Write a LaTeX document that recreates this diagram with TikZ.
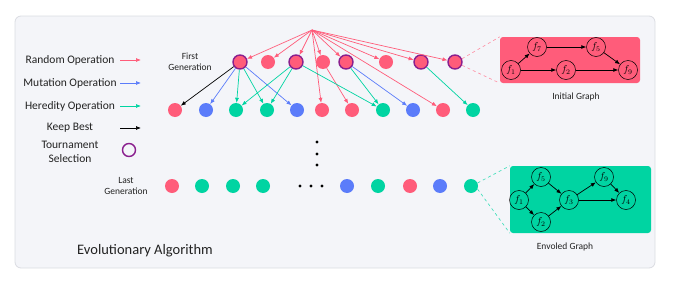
\documentclass[tikz,border=0pt]{standalone}
\usepackage{fontspec}
\setmainfont{Carlito}
\usetikzlibrary{arrows.meta}
\definecolor{randcol}{HTML}{FF5C7A}
\definecolor{mutcol}{HTML}{5B7CFA}
\definecolor{hercol}{HTML}{00D4A2}
\definecolor{selcol}{HTML}{8A1F8E}
\definecolor{panelcol}{HTML}{F4F5F9}
\definecolor{edgecol}{HTML}{DADCE2}
\definecolor{txtcol}{HTML}{222222}
\tikzset{
    indiv/.style={circle, minimum size=14pt, inner sep=0pt},
    chosen/.style={draw=selcol, line width=1.4pt},
    plain/.style={},
    randarr/.style={draw=randcol, line width=0.7pt, -{Latex[length=5pt,width=4pt]}},
    mutarr/.style={draw=mutcol, line width=0.7pt, -{Latex[length=5pt,width=4pt]}},
    herarr/.style={draw=hercol, line width=0.7pt, -{Latex[length=5pt,width=4pt]}},
    bestarr/.style={draw=black, line width=0.7pt, -{Latex[length=5pt,width=4pt]}},
    legtext/.style={text=txtcol, font=\fontsize{11.5}{13.5}\selectfont, align=center},
    gentext/.style={text=txtcol, font=\fontsize{9.5}{11.5}\selectfont, align=center},
    graphbox/.style={rounded corners=3pt, inner sep=0pt},
    fnode/.style={circle, draw=black, line width=0.5pt, minimum size=19pt, inner sep=0pt, font=\fontsize{10}{10}\selectfont},
    garr/.style={line width=0.7pt, -{Latex[length=5pt,width=4pt]}}
}
\begin{document}
\begin{tikzpicture}[x=1pt,y=-1pt]
    \useasboundingbox (0,0) rectangle (674,281);
    \fill[panelcol, draw=edgecol, line width=0.8pt, rounded corners=6pt] (15,16) rectangle (655,268);

    % legend
    \foreach \y/\txt/\st [count=\i] in {60/Random Operation/randarr, 83/Mutation Operation/mutarr,
        106/Heredity Operation/herarr, 128/Keep Best/bestarr}{
        \node[legtext] (leg\i) at (70,\y) {\txt};
        \coordinate (ls\i) at (120,\y);
        \coordinate (le\i) at (141,\y);
        \draw[\st] (ls\i) -- (le\i);
    }
    \node[legtext] (legsel) at (70,152) {Tournament\\Selection};
    \node[indiv, chosen, minimum size=13pt] (selmark) at (129,150) {};

    % first generation
    \node[gentext] (firstgen) at (190,62) {First\\Generation};
    \coordinate (src) at (312,30);
    \foreach \x/\st [count=\i] in {240/chosen, 268/plain, 296/chosen, 323/plain,
        346/chosen, 386/plain, 421/chosen, 455/chosen}{
        \node[indiv, fill=randcol, \st] (t\i) at (\x,62) {};
    }
    \foreach \x/\c [count=\i] in {175/randcol, 206/mutcol, 236/hercol, 267/hercol,
        297/mutcol, 322/randcol, 352/randcol, 383/hercol, 413/mutcol, 443/randcol, 473/hercol}{
        \node[indiv, fill=\c] (b\i) at (\x,110) {};
    }

    % operations
    \foreach \i in {1,...,8}
        \draw[randarr] (src) -- (t\i);
    \draw[randarr] (src) -- (b6);
    \draw[randarr] (src) -- (b10);
    \draw[randarr] (t4) -- (b7);
    \draw[bestarr] (t1) -- (b1);
    \draw[mutarr] (t1) -- (b2);
    \draw[mutarr] (t1) -- (b5);
    \draw[mutarr] (t5) -- (b9);
    \draw[herarr] (t1) -- (b3);
    \draw[herarr] (t1) -- (b4);
    \draw[herarr] (t3) -- (b3);
    \draw[herarr] (t3) -- (b4);
    \draw[herarr] (t3) -- (b8);
    \draw[herarr] (t5) -- (b8);
    \draw[herarr] (t7) -- (b11);

    % dots
    \foreach \y [count=\i] in {142,154,165}
        \fill (317,\y) circle (1.6pt) coordinate (vd\i);
    \foreach \x [count=\i] in {300,311,322}
        \fill (\x,186) circle (1.6pt) coordinate (hd\i);

    % last generation
    \node[gentext] (lastgen) at (126,186) {Last\\Generation};
    \foreach \x/\c [count=\i] in {172/randcol, 202/hercol, 233/hercol, 263/hercol,
        347/mutcol, 378/hercol, 410/randcol, 440/mutcol, 471/hercol}{
        \node[indiv, fill=\c] (l\i) at (\x,186) {};
    }

    % initial graph
    \node[graphbox, fill=randcol, minimum width=140pt, minimum height=46pt] (initbox) at (570,60) {};
    \draw[randcol!70, dashed, line width=0.6pt] (t8.25) -- (initbox.north west);
    \draw[randcol!70, dashed, line width=0.6pt] (t8.-25) -- (initbox.south west);
    \node[fnode] (g1) at (511,70) {$f_1$};
    \node[fnode] (g7) at (537,47) {$f_7$};
    \node[fnode] (g5) at (596,47) {$f_5$};
    \node[fnode] (g2) at (566,70) {$f_2$};
    \node[fnode] (g9) at (628,70) {$f_9$};
    \draw[garr] (g1) -- (g7);
    \draw[garr] (g7) -- (g5);
    \draw[garr] (g5) -- (g9);
    \draw[garr] (g1) -- (g2);
    \draw[garr] (g2) -- (g9);
    \node[gentext] (initlabel) at (576,97) {Initial Graph};

    % evolved graph
    \node[graphbox, fill=hercol, minimum width=141pt, minimum height=67pt] (evobox) at (580.5,199.5) {};
    \draw[hercol!80, dashed, line width=0.6pt] (l9.25) -- (evobox.north west);
    \draw[hercol!80, dashed, line width=0.6pt] (l9.-25) -- (evobox.south west);
    \node[fnode] (e1) at (519,200) {$f_1$};
    \node[fnode] (e5) at (541,177) {$f_5$};
    \node[fnode] (e2) at (541,222) {$f_2$};
    \node[fnode] (e3) at (569,200) {$f_3$};
    \node[fnode] (e9) at (604,177) {$f_9$};
    \node[fnode] (e4) at (626,200) {$f_4$};
    \draw[garr] (e1) -- (e5);
    \draw[garr] (e1) -- (e2);
    \draw[garr] (e5) -- (e3);
    \draw[garr] (e2) -- (e3);
    \draw[garr] (e3) -- (e9);
    \draw[garr] (e9) -- (e4);
    \draw[garr] (e3) -- (e4);
    \node[gentext] (evolabel) at (565,247) {Envoled Graph};

    \node[text=txtcol, font=\fontsize{14.5}{17}\selectfont] (title) at (145,251) {Evolutionary Algorithm};
\end{tikzpicture}
\end{document}
